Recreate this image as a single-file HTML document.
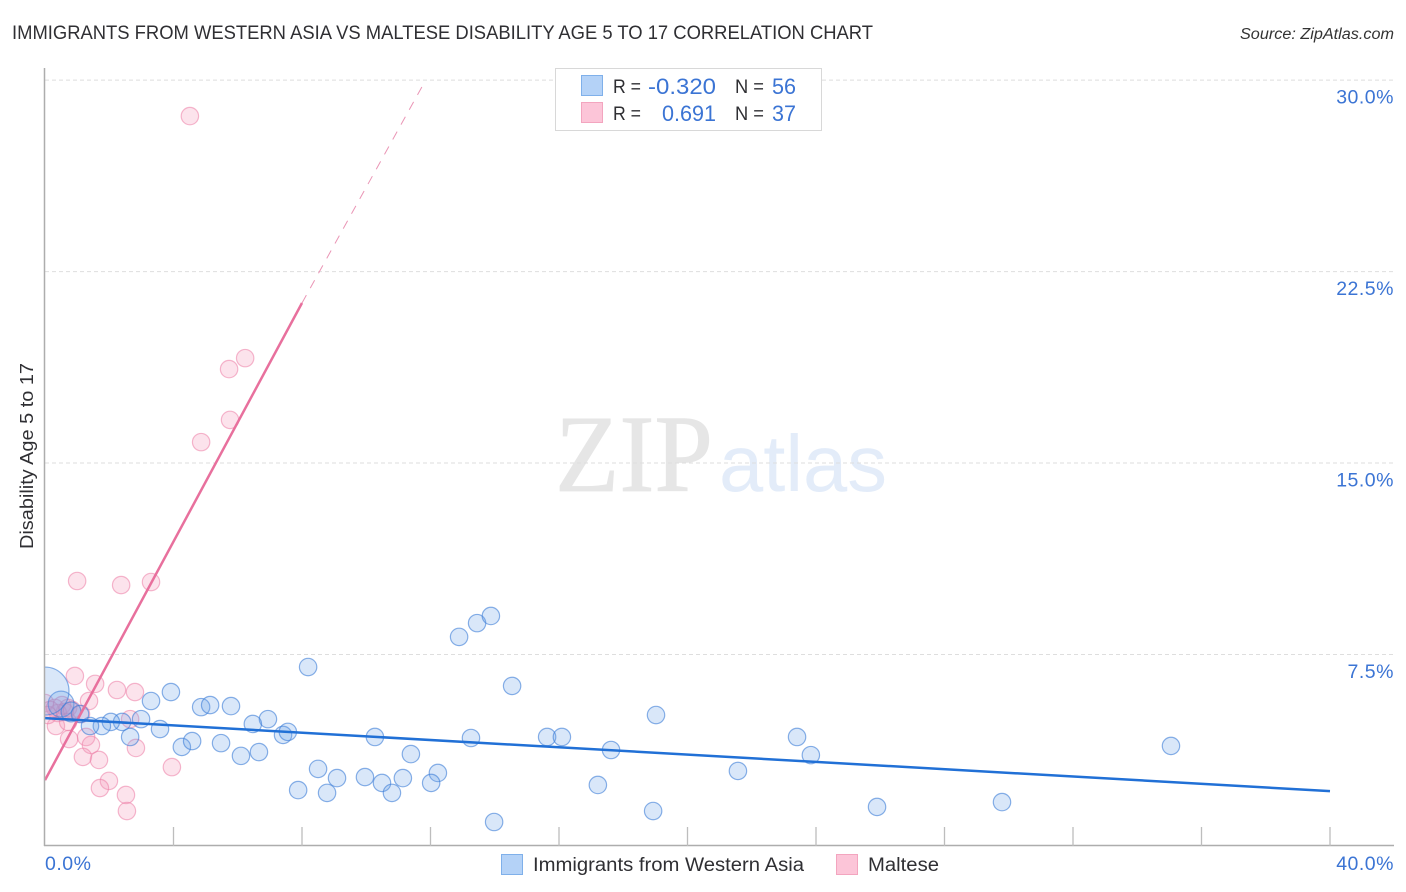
<!DOCTYPE html>
<html lang="en">
<head>
<meta charset="utf-8">
<title>Immigrants from Western Asia vs Maltese Disability Age 5 to 17 Correlation Chart</title>
<style>
html,body{margin:0;padding:0;background:#fff;width:1406px;height:892px;overflow:hidden}
svg{display:block;font-family:"Liberation Sans",sans-serif}
</style>
</head>
<body>
<svg id="chart" xmlns="http://www.w3.org/2000/svg" width="1406" height="892" viewBox="0 0 1406 892">
  <rect width="1406" height="892" fill="#fff"/>
  <g>
    <text x="555" y="491" font-family="'Liberation Serif',serif" font-size="110" fill="#e6e6e6" stroke="#e6e6e6" stroke-width="0.8" textLength="158" lengthAdjust="spacingAndGlyphs">ZIP</text>
    <text x="719" y="491" font-size="80" fill="#e3ecf9" textLength="168" lengthAdjust="spacingAndGlyphs">atlas</text>
  </g>
  <g id="grid"></g>
  <g id="marks"></g>
  <rect x="0" y="60" width="44.5" height="790" fill="#fff"/>
  <g id="axes"></g>
  <text x="12" y="39" font-size="19" fill="#2f2f33" textLength="861" lengthAdjust="spacingAndGlyphs">IMMIGRANTS FROM WESTERN ASIA VS MALTESE DISABILITY AGE 5 TO 17 CORRELATION CHART</text>
  <text x="1240" y="39" font-size="15.5" font-style="italic" fill="#333" textLength="154" lengthAdjust="spacingAndGlyphs">Source: ZipAtlas.com</text>
  <text transform="translate(33,549) rotate(-90)" font-size="18" fill="#2f2f33" textLength="186" lengthAdjust="spacingAndGlyphs">Disability Age 5 to 17</text>

  <g>
    <rect x="555.5" y="68.5" width="266" height="62" fill="#fff" stroke="#d8d8d8" stroke-width="1"/>
    <rect x="581.5" y="75.5" width="21" height="20" fill="#b4d2f7" stroke="#7fb0ea"/>
    <rect x="581.5" y="102.5" width="21" height="20" fill="#fcc5d8" stroke="#f3a5bf"/>
    <text x="613" y="93" font-size="19" fill="#2f2f33" textLength="28" lengthAdjust="spacingAndGlyphs">R =</text>
    <text x="648" y="94" font-size="22" fill="#3b74d4" textLength="68" lengthAdjust="spacingAndGlyphs">-0.320</text>
    <text x="735" y="93" font-size="19" fill="#2f2f33" textLength="29" lengthAdjust="spacingAndGlyphs">N =</text>
    <text x="772" y="94" font-size="22" fill="#3b74d4" textLength="24" lengthAdjust="spacingAndGlyphs">56</text>
    <text x="613" y="120" font-size="19" fill="#2f2f33" textLength="28" lengthAdjust="spacingAndGlyphs">R =</text>
    <text x="662" y="121" font-size="22" fill="#3b74d4" textLength="54" lengthAdjust="spacingAndGlyphs">0.691</text>
    <text x="735" y="120" font-size="19" fill="#2f2f33" textLength="29" lengthAdjust="spacingAndGlyphs">N =</text>
    <text x="772" y="121" font-size="22" fill="#3b74d4" textLength="24" lengthAdjust="spacingAndGlyphs">37</text>
  </g>

  <g>
    <g>
      <rect x="501.5" y="854.5" width="21" height="20" fill="#b4d2f7" stroke="#7fb0ea"/>
      <text x="533" y="871" font-size="19" fill="#2f2f33" textLength="271" lengthAdjust="spacingAndGlyphs">Immigrants from Western Asia</text>
    </g>
    <g>
      <rect x="836.5" y="854.5" width="21" height="20" fill="#fcc5d8" stroke="#f3a5bf"/>
      <text x="868" y="871" font-size="19" fill="#2f2f33" textLength="71" lengthAdjust="spacingAndGlyphs">Maltese</text>
    </g>
  </g>
</svg>
<script>
// ---- chart data (percent values) ----
const yTickValues = [7.5, 15, 22.5, 30];
const yTickLabels = ['7.5%', '15.0%', '22.5%', '30.0%'];
const xTickValues = [0, 4, 8, 12, 16, 20, 24, 28, 32, 36, 40];
const xEndLabels = ['0.0%', '40.0%'];

const immigrantsX = [8.19,14.54,12.89,13.45,13.88,3.92,3.30,4.86,5.14,5.79,6.94,6.47,2.99,2.40,2.05,1.77,1.40,3.58,2.65,4.26,4.58,5.48,6.10,6.66,7.41,7.56,10.27,13.26,15.63,16.09,19.02,17.62,11.39,23.41,23.84,21.57,35.05,8.50,9.09,9.96,10.49,11.14,12.23,12.02,7.88,8.78,10.80,17.21,18.93,25.90,29.79,13.98,0.50,0.81,1.09,0];
const immigrantsY = [7.01,6.27,8.19,8.73,9.01,6.03,5.68,5.44,5.52,5.48,4.97,4.78,4.97,4.86,4.86,4.70,4.70,4.58,4.27,3.88,4.11,4.03,3.53,3.68,4.35,4.47,4.27,4.23,4.27,4.27,5.13,3.76,3.60,4.27,3.56,2.94,3.92,3.02,2.66,2.70,2.47,2.66,2.86,2.47,2.19,2.08,2.08,2.39,1.37,1.53,1.72,0.94,5.56,5.25,5.17,6.07];
const immigrantsWeight = [1,1,1,1,1,1,1,1,1,1,1,1,1,1,1,1,1,1,1,1,1,1,1,1,1,1,1,1,1,1,1,1,1,1,1,1,1,1,1,1,1,1,1,1,1,1,1,1,1,1,1,1,2.2,1.3,1,7.6];

const malteseX = [4.51,6.23,5.73,5.76,4.86,1.00,2.37,3.30,0.93,1.56,2.24,2.80,1.37,0,0.31,0.53,0.72,0.62,0.40,0.16,0.84,1.12,2.65,0.34,0.72,1.28,0.75,1.43,2.83,1.18,1.68,3.95,1.99,1.71,2.52,2.55,0.09];
const malteseY = [28.59,19.11,18.68,16.69,15.82,10.38,10.22,10.34,6.66,6.35,6.11,6.03,5.68,5.60,5.41,5.52,5.41,5.25,5.21,5.33,5.33,5.17,4.97,4.70,4.86,4.27,4.19,3.96,3.84,3.49,3.37,3.09,2.55,2.27,2.00,1.37,5.13];

const immigrantsTrendX = [0, 40];
const immigrantsTrendY = [5.01, 2.15];
const malteseTrendX = [0, 8];
const malteseTrendY = [2.58, 21.27];
const malteseDashX = [8, 11.85];
const malteseDashY = [21.27, 30];

// ---- axis functions ----
const SVGNS = 'http://www.w3.org/2000/svg';
const xScale = v => 45 + v * 32.125;
const yScale = v => 846 - v * 25.53;
const grid = document.getElementById('grid');
const axes = document.getElementById('axes');
const marks = document.getElementById('marks');

function make(tag, attrs, parent) {
  const el = document.createElementNS(SVGNS, tag);
  for (const k in attrs) el.setAttribute(k, attrs[k]);
  parent.appendChild(el);
  return el;
}

yTickValues.forEach((v, i) => {
  const line = make('line', {x1: 45, x2: 1394, y1: yScale(v), y2: yScale(v), stroke: '#dedede', 'stroke-width': 1, 'stroke-dasharray': '4 3'}, grid);
  
  
  const label = make('text', {x: 1394, y: yScale(v) + 23.5, 'text-anchor': 'end', 'font-size': 19.5, 'letter-spacing': '0.5', fill: '#3b74d4'}, axes);
  
  
  label.textContent = yTickLabels[i];
});

const yAxis = make('line', {x1: 44.5, x2: 44.5, y1: 68, y2: 846, stroke: '#adadad', 'stroke-width': 1.5}, axes);


const xAxis = make('line', {x1: 44, x2: 1394, y1: 845.5, y2: 845.5, stroke: '#adadad', 'stroke-width': 1.5}, axes);



xTickValues.forEach(v => {
  if (v === 0) return;
  const tick = make('line', {x1: xScale(v), x2: xScale(v), y1: 827, y2: 846, stroke: '#bdbdbd', 'stroke-width': 1.3}, axes);
  
  
});

const xLabelStart = make('text', {x: xScale(xTickValues[0]), y: 870, 'font-size': 19.5, 'letter-spacing': '0.5', fill: '#3b74d4'}, axes);


xLabelStart.textContent = xEndLabels[0];
const xLabelEnd = make('text', {x: 1394, y: 870, 'text-anchor': 'end', 'font-size': 19.5, 'letter-spacing': '0.5', fill: '#3b74d4'}, axes);


xLabelEnd.textContent = xEndLabels[1];

// ---- points ----
malteseX.forEach((v, i) => {
  const c = make('circle', {cx: xScale(v), cy: yScale(malteseY[i]), r: 8.7, fill: 'rgba(245,150,185,0.27)', stroke: 'rgba(236,125,165,0.55)', 'stroke-width': 1.2}, marks);
  
  
});
immigrantsX.forEach((v, i) => {
  const c = make('circle', {cx: xScale(v), cy: yScale(immigrantsY[i]), r: 8.7 * Math.sqrt(immigrantsWeight[i]), fill: 'rgba(105,160,232,0.25)', stroke: 'rgba(60,125,215,0.6)', 'stroke-width': 1.2}, marks);
  
  
});

// ---- trend lines ----
const pinkLine = make('line', {x1: xScale(malteseTrendX[0]), y1: yScale(malteseTrendY[0]), x2: xScale(malteseTrendX[1]), y2: yScale(malteseTrendY[1]), stroke: '#e8709d', 'stroke-width': 2.5}, marks);


const pinkDash = make('line', {x1: xScale(malteseDashX[0]), y1: yScale(malteseDashY[0]), x2: xScale(malteseDashX[1]), y2: yScale(malteseDashY[1]), stroke: '#ea95b5', 'stroke-width': 1, 'stroke-dasharray': '9 8'}, marks);


const blueLine = make('line', {x1: xScale(immigrantsTrendX[0]), y1: yScale(immigrantsTrendY[0]), x2: xScale(immigrantsTrendX[1]), y2: yScale(immigrantsTrendY[1]), stroke: '#2170d6', 'stroke-width': 2.5}, marks);


</script>
</body>
</html>
